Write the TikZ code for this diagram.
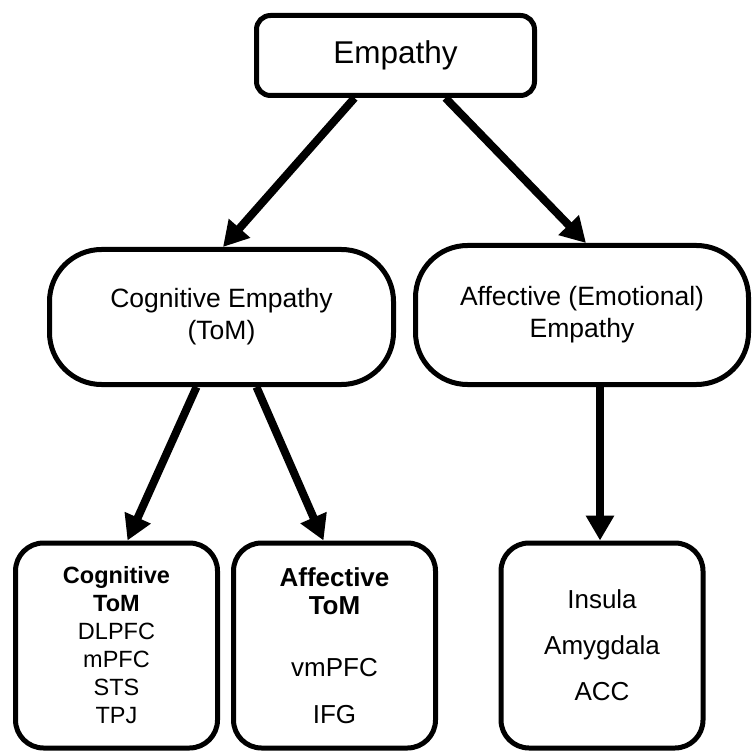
\documentclass[tikz,border=0pt]{standalone}
\usepackage{fontspec}
\setmainfont{Liberation Sans}
\usepackage{tikz}
\usetikzlibrary{positioning, shapes, arrows.meta}
\tikzstyle{rb}=[%
      rectangle, draw=black, line width=5pt, rounded corners=14pt, align=center,
      minimum width=278pt, minimum height=80pt, inner sep=0pt,
      font=\fontsize{31.5}{38}\selectfont
]
\tikzstyle{pl}=[%
      rectangle, draw=black, line width=5pt, rounded corners=52pt, align=center,
      minimum height=135pt, inner sep=0pt, font=\fontsize{26.5}{32}\selectfont
]
\tikzstyle{lf}=[%
      rectangle, draw=black, line width=5pt, rounded corners=28pt, align=center,
      minimum width=202pt, minimum height=205pt, inner sep=0pt
]
\begin{document}
\begin{tikzpicture}[x=1pt, y=-1pt,
    ->,
    >={Triangle[length=25pt,width=27pt]},
  %  node distance=11pt,
]
    \path[fill=white, use as bounding box] (0,0) rectangle (752,751);
    \node[rb]  (emp) at (395.5,55.5) {Empathy};
    \node[pl, minimum width=344pt]  (cog) at (221.5,317) {Cognitive Empathy\\(ToM)};
    \node[pl, minimum width=333pt, minimum height=139pt]  (aff) at (582,315) {Affective (Emotional)\\Empathy};
    \node[lf, font=\fontsize{23.5}{28}\selectfont]  (ctom) at (116.5,645.5) {\textbf{Cognitive}\\\textbf{ToM}\\DLPFC\\mPFC\\STS\\TPJ};
    \node[lf, font=\fontsize{26}{28}\selectfont]  (atom) [right = 11pt of ctom] {\textbf{Affective}\\\textbf{ToM}\\[34pt]vmPFC\\[19pt]IFG};
    \node[lf, font=\fontsize{26}{28}\selectfont]  (emo) at (602,645.5) {Insula\\[18pt]Amygdala\\[18pt]ACC};
    \path[line width=8pt]
          ([xshift=-41pt]emp.south) edge ([xshift=1.5pt]cog.north)
          ([xshift=50pt]emp.south)  edge ([xshift=4pt]aff.north)
          ([xshift=-25pt]cog.south) edge ([xshift=11pt]ctom.north)
          ([xshift=35pt]cog.south)  edge ([xshift=-11pt]atom.north)
          ([xshift=18pt]aff.south)  edge ([xshift=-2pt]emo.north)
    ;
\end{tikzpicture}
\end{document}
